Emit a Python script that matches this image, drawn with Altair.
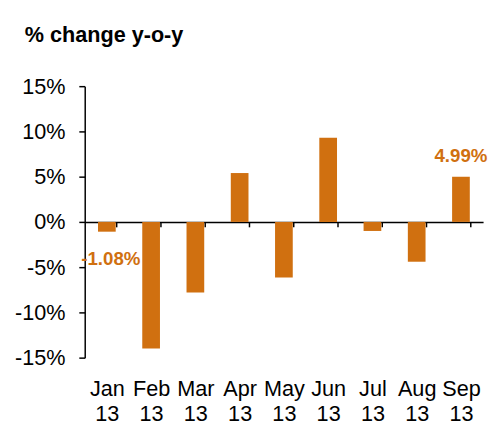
import altair as alt
import pandas as pd

months = ["Jan 13", "Feb 13", "Mar 13", "Apr 13", "May 13", "Jun 13", "Jul 13", "Aug 13", "Sep 13"]
values = [-1.08, -14.0, -7.8, 5.4, -6.15, 9.3, -1.0, -4.4, 4.99]
labels = ["-1.08%", "", "", "", "", "", "", "", "4.99%"]

df = pd.DataFrame({"month": months, "value": values, "label": labels})

ORANGE = "#D07010"
FONT = "Liberation Sans"

x = alt.X(
    "month:N",
    sort=months,
    title=None,
    scale=alt.Scale(paddingInner=0.6, paddingOuter=0.3),
    axis=alt.Axis(
        orient="bottom",
        offset=-138,
        domainColor="black",
        domainWidth=1.5,
        tickColor="black",
        tickWidth=1.5,
        tickSize=5,
        tickBand="extent",
        labelAngle=0,
        labelPadding=154,
        labelFont=FONT,
        labelFontSize=22,
        labelColor="black",
        labelLineHeight=26,
        labelBaseline="top",
        labelExpr="split(datum.label, ' ')",
    ),
)

y = alt.Y(
    "value:Q",
    title=None,
    scale=alt.Scale(domain=[-15, 15], nice=False),
    axis=alt.Axis(
        values=[-15, -10, -5, 0, 5, 10, 15],
        labelExpr="datum.value + '%'",
        grid=False,
        domainColor="black",
        domainWidth=1.5,
        tickColor="black",
        tickWidth=1.5,
        tickSize=6,
        labelPadding=14,
        labelFont=FONT,
        labelFontSize=22,
        labelColor="black",
    ),
)

bars = alt.Chart(df).mark_bar(color=ORANGE).encode(x=x, y=y)

lab_jan = alt.Chart(df[df["month"] == "Jan 13"]).mark_text(
    font=FONT, fontSize=19, fontWeight="bold", color=ORANGE, dx=4, dy=28, baseline="middle"
).encode(x=alt.X("month:N", sort=months), y="value:Q", text="label:N")

lab_sep = alt.Chart(df[df["month"] == "Sep 13"]).mark_text(
    font=FONT, fontSize=19, fontWeight="bold", color=ORANGE, dy=-21, baseline="middle"
).encode(x=alt.X("month:N", sort=months), y="value:Q", text="label:N")

chart = (
    alt.layer(bars, lab_jan, lab_sep)
    .properties(
        width=405,
        height=276,
        autosize=alt.AutoSizeParams(type="none"),
        padding={"left": 78, "top": 76, "right": 5, "bottom": 65},
        title=alt.TitleParams(
            "% change y-o-y",
            anchor="start",
            frame="group",
            dx=-61,
            offset=12,
            baseline="alphabetic",
            font=FONT,
            fontSize=22,
            fontWeight="bold",
            color="black",
        ),
    )
    .configure_view(stroke=None)
)

chart.save("out.html", embed_options={"renderer": "svg", "actions": False})
